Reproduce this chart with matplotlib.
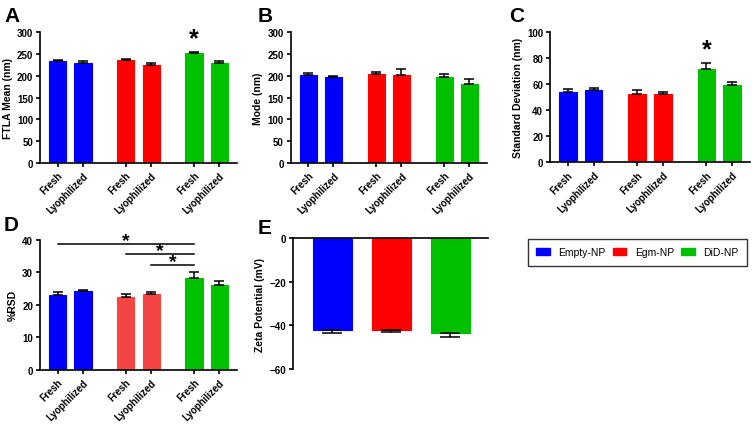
import matplotlib
matplotlib.use("Agg")
import matplotlib.pyplot as plt
from matplotlib.patches import Patch

plt.rcParams["font.family"] = ["Liberation Sans", "DejaVu Sans"]
plt.rcParams["font.weight"] = "bold"

# data
tick_labels = ["Fresh", "Lyophilized"] * 3
groups = ["Empty-NP", "Egm-NP", "DiD-NP"]

ftla_mean = [233, 230, 235, 225, 252, 230]
ftla_err = [2, 3, 3, 3, 3, 4]
mode_vals = [202, 196, 203, 202, 198, 181]
mode_err = [5, 4, 5, 13, 5, 12]
sd_vals = [54, 55.5, 52.5, 52.5, 71.5, 59.5]
sd_err = [2.5, 1.5, 2.8, 1.5, 5, 2.5]
rsd_vals = [23, 24.2, 22.4, 23.4, 28.3, 26]
rsd_err = [1, 0.5, 1, 0.5, 1.7, 1.3]
zeta_vals = [-42, -42, -43.5]
zeta_err = [1.5, 1.2, 1.8]

positions = [0, 1, 2.7, 3.7, 5.4, 6.4]
blue, red, green = "#0000ff", "#ff0000", "#00c000"
bar_colors = [blue, blue, red, red, green, green]
rsd_colors = [blue, blue, "#f44444", "#f44444", green, green]

fig = plt.figure(figsize=(7.53, 4.27), dpi=100)


def style_axis(ax):
    ax.spines["top"].set_visible(False)
    ax.spines["right"].set_visible(False)
    for s in ["left", "bottom"]:
        ax.spines[s].set_linewidth(1.2)
    ax.tick_params(width=1.2, length=3, labelsize=7, pad=2)


def add_letter(letter, x, y):
    fig.text(x / 753, 1 - y / 427, letter, fontsize=15, fontweight="bold",
             va="top", ha="left")


def bar_panel(rect, vals, errs, colors, ylim, yticks, ylabel):
    ax = fig.add_axes(rect)
    ax.bar(positions, vals, width=0.68, color=colors, edgecolor=colors, linewidth=0.8)
    ax.errorbar(positions, vals, yerr=[[0] * len(errs), errs], fmt="none",
                ecolor="black", elinewidth=1.1, capsize=3.5, capthick=1.1)
    ax.set_xlim(-0.7, 7.1)
    ax.set_ylim(*ylim)
    ax.set_yticks(yticks)
    ax.set_xticks(positions)
    ax.set_xticklabels(tick_labels, rotation=45, ha="right", rotation_mode="anchor")
    ax.set_ylabel(ylabel, fontsize=7.5, fontweight="bold", labelpad=3)
    style_axis(ax)
    return ax


axA = bar_panel([0.0531, 0.6159, 0.2616, 0.3068], ftla_mean, ftla_err, bar_colors,
                (0, 300), range(0, 301, 50), "FTLA Mean (nm)")
axA.text(positions[4], ftla_mean[4] + ftla_err[4] + 4, "*", ha="center", va="bottom",
         fontsize=18, fontweight="bold")
add_letter("A", 4, 7)

axB = bar_panel([0.386, 0.6159, 0.2607, 0.3068], mode_vals, mode_err, bar_colors,
                (0, 300), range(0, 301, 50), "Mode (nm)")
add_letter("B", 258, 7)

axC = bar_panel([0.7304, 0.6175, 0.2656, 0.3045], sd_vals, sd_err, bar_colors,
                (0, 100), range(0, 101, 20), "Standard Deviation (nm)")
axC.text(positions[4], sd_vals[4] + sd_err[4] + 1.5, "*", ha="center", va="bottom",
         fontsize=18, fontweight="bold")
add_letter("C", 509, 7)

axD = bar_panel([0.0531, 0.1311, 0.2616, 0.3052], rsd_vals, rsd_err, rsd_colors,
                (0, 40), range(0, 41, 10), "%RSD")
add_letter("D", 4, 216)
# significance lines
sig = [(positions[0], 38.8), (positions[2], 35.5), (positions[3], 32.2)]
for x0, y in sig:
    axD.plot([x0, positions[4]], [y, y], color="black", lw=1.1, clip_on=False)
    axD.text((x0 + positions[4]) / 2, y - 1.6, "*", ha="center", va="bottom",
             fontsize=14, fontweight="bold")

# panel E
axE = fig.add_axes([0.3891, 0.1335, 0.259, 0.3061])
zpos = [0, 1, 2]
zcolors = [blue, red, green]
axE.bar(zpos, zeta_vals, width=0.66, color=zcolors, edgecolor=zcolors, linewidth=0.8)
axE.errorbar(zpos, zeta_vals, yerr=[zeta_err, [0] * 3], fmt="none", ecolor="black",
             elinewidth=1.1, capsize=7, capthick=1.1)
axE.set_xlim(-0.67, 2.64)
axE.set_ylim(-60, 0)
axE.set_yticks([-60, -40, -20, 0])
axE.set_xticks([])
axE.spines["bottom"].set_position(("data", 0))
axE.set_ylabel("Zeta Potential (mV)", fontsize=7.5, fontweight="bold", labelpad=3)
style_axis(axE)
add_letter("E", 258, 219)

# legend
handles = [Patch(color=c, label=g) for c, g in zip(zcolors, groups)]
fig.legend(handles=handles, loc="upper left", bbox_to_anchor=(528 / 753, 1 - 240 / 427),
           ncol=3, frameon=True, fancybox=False, edgecolor="black",
           prop={"weight": "normal", "size": 7.5}, handlelength=1.3, handleheight=0.6,
           columnspacing=0.7, handletextpad=0.8, borderpad=0.8, borderaxespad=0)

fig.savefig("out.png", dpi=100)
